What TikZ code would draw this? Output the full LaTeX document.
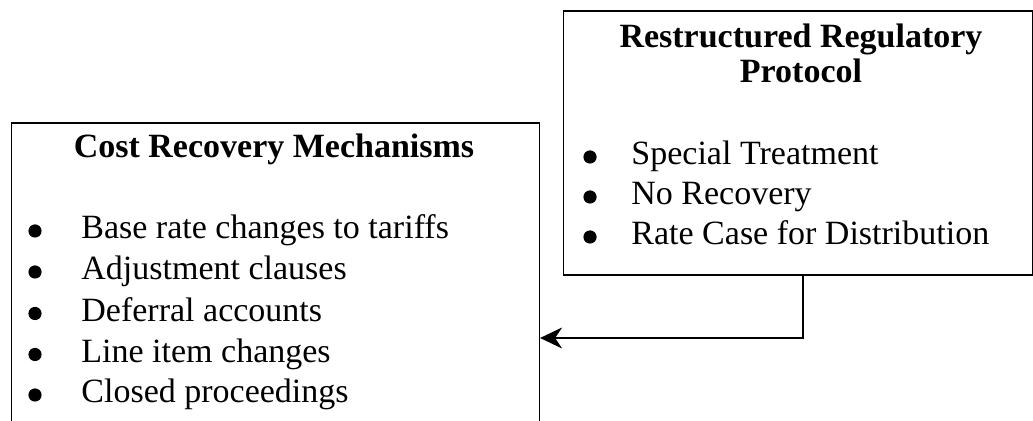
\documentclass[tikz,border=0pt]{standalone}
\usepackage{fontspec}
\setmainfont{Liberation Serif}
\usetikzlibrary{arrows.meta}

\tikzset{
  panel/.style={draw, line width=0.8pt, rectangle, inner sep=0pt, anchor=north west},
  heading/.style={font=\fontsize{17pt}{19pt}\selectfont\bfseries, anchor=base, inner sep=0pt},
  entry/.style={font=\fontsize{17pt}{20.5pt}\selectfont, anchor=base west, inner sep=0pt},
  dot/.style={circle, fill, inner sep=0pt, minimum size=6.6pt},
  link/.style={line width=0.8pt, -{Stealth[length=11pt, width=10.5pt, inset=3.5pt]}}
}

\begin{document}
\begin{tikzpicture}[x=0.5pt, y=-0.5pt]
  \useasboundingbox (0,0) rectangle (1033,421);
  \clip (0,0) rectangle (1033,421);

  % Left panel: cost recovery mechanisms (runs past the lower edge)
  \node[panel, minimum width=264pt, minimum height=160pt] (lbox) at (10.5,122) {};
  \node[heading] (ltitle) at (274,157.5) {Cost Recovery Mechanisms};
  \foreach \i/\yy/\txt in {1/239/Base rate changes to tariffs,
                           2/280/Adjustment clauses,
                           3/321.5/Deferral accounts,
                           4/362.5/Line item changes,
                           5/403/Closed proceedings} {
    \node[dot] (ldot\i) at (35,\yy-8) {};
    \node[entry] (litem\i) at (81,\yy) {\txt};
  }

  % Right panel: restructured regulatory protocol
  \node[panel, minimum width=234.5pt, minimum height=132pt] (rbox) at (562.5,10) {};
  \node[heading] (rtitle1) at (801,48) {Restructured Regulatory};
  \node[heading] (rtitle2) at (801,83) {Protocol};
  \foreach \i/\yy/\txt in {1/165/Special Treatment,
                           2/205/No Recovery,
                           3/245/Rate Case for Distribution} {
    \node[dot] (rdot\i) at (590,\yy-8) {};
    \node[entry] (ritem\i) at (631,\yy) {\txt};
  }

  % Elbow connector from the right panel into the left panel
  \coordinate (bend) at (803,338);
  \draw[link] (rbox.south -| bend) -- (bend) -- (lbox.east |- bend);
\end{tikzpicture}
\end{document}
